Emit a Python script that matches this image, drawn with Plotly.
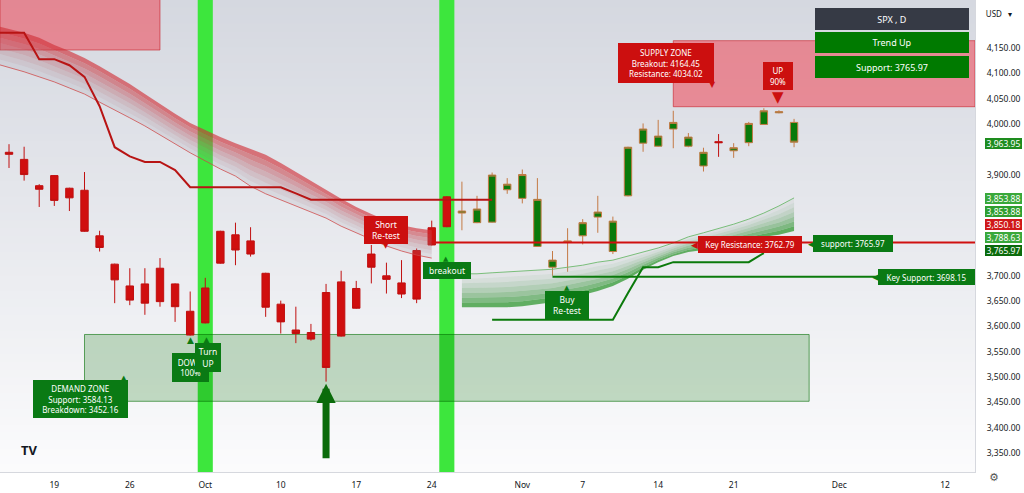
import plotly.graph_objects as go
import pandas as pd

# ---------------- DATA ----------------
dates = ["2022-09-14", "2022-09-15", "2022-09-16", "2022-09-19", "2022-09-20", "2022-09-21", "2022-09-22",
         "2022-09-23", "2022-09-26", "2022-09-27", "2022-09-28", "2022-09-29", "2022-09-30",
         "2022-10-03", "2022-10-04", "2022-10-05", "2022-10-06", "2022-10-07",
         "2022-10-10", "2022-10-11", "2022-10-12", "2022-10-13", "2022-10-14",
         "2022-10-17", "2022-10-18", "2022-10-19", "2022-10-20", "2022-10-21",
         "2022-10-24", "2022-10-25", "2022-10-26", "2022-10-27", "2022-10-28",
         "2022-10-31", "2022-11-01", "2022-11-02", "2022-11-03", "2022-11-04",
         "2022-11-07", "2022-11-08", "2022-11-09", "2022-11-10", "2022-11-11",
         "2022-11-14", "2022-11-15", "2022-11-16", "2022-11-17", "2022-11-18",
         "2022-11-21", "2022-11-22", "2022-11-23", "2022-11-25", "2022-11-28"]
opens = [3944, 3930, 3878, 3898, 3873, 3869, 3779, 3723, 3680, 3684, 3715, 3684, 3630,
         3676, 3788, 3781, 3769, 3705, 3644, 3593, 3588, 3667, 3688, 3675, 3743, 3700, 3686, 3750,
         3795, 3856, 3824, 3805, 3806, 3870, 3853, 3758, 3717, 3766, 3779, 3816, 3748, 3858, 3962,
         3956, 3990, 3956, 3917, 3965, 3947, 3963, 3999, 4022, 4003]
highs = [3960, 3955, 3881, 3899, 3874, 3905, 3789, 3724, 3715, 3715, 3735, 3685, 3669,
         3696, 3789, 3805, 3796, 3706, 3651, 3639, 3605, 3684, 3710, 3690, 3761, 3726, 3731, 3754,
         3809, 3857, 3886, 3858, 3904, 3893, 3910, 3893, 3749, 3794, 3812, 3858, 3817, 3955, 4001,
         4008, 4026, 3982, 3953, 3980, 3962, 4004, 4031, 4027, 4010]
lows = [3913, 3888, 3836, 3838, 3828, 3787, 3748, 3646, 3642, 3623, 3639, 3609, 3582,
        3606, 3724, 3721, 3738, 3619, 3586, 3567, 3572, 3491, 3580, 3635, 3685, 3665, 3656, 3646,
        3760, 3796, 3790, 3804, 3805, 3862, 3843, 3757, 3700, 3708, 3762, 3785, 3743, 3857, 3945,
        3955, 3952, 3954, 3906, 3935, 3933, 3956, 3998, 4021, 3954]
closes = [3940, 3900, 3871, 3849, 3854, 3788, 3756, 3692, 3652, 3646, 3649, 3639, 3583,
          3607, 3725, 3751, 3743, 3638, 3609, 3586, 3575, 3519, 3581, 3636, 3717, 3693, 3664, 3654,
          3761, 3797, 3828, 3832, 3899, 3881, 3900, 3851, 3731, 3769, 3805, 3826, 3808, 3954, 3990,
          3976, 4003, 3974, 3944, 3963, 3953, 4001, 4026, 4024, 3963.95]
trend = ["down"] * 30 + ["up"] * 17 + ["down"] + ["up"] * 5

# descending (bearish) cloud
bear_dates = ["2022-09-13"] + dates[:29]
bear_upper = [4195, 4188, 4180, 4170, 4156, 4144, 4130, 4114, 4097, 4079, 4059, 4039, 4020, 4002,
              3988, 3974, 3962, 3950, 3939, 3923, 3905, 3887, 3870, 3852, 3836, 3822, 3810, 3800, 3794, 3790]
bear_lower = [4120, 4112, 4103, 4093, 4083, 4071, 4059, 4043, 4028, 4012, 3996, 3978, 3960, 3943,
              3927, 3911, 3897, 3877, 3862, 3850, 3838, 3826, 3814, 3798, 3785, 3771, 3759, 3749, 3741, 3735]

# rising (bullish) cloud
bull_dates = dates[30:]
bull_upper = [3704, 3704, 3706, 3708, 3710, 3712, 3713, 3717, 3721, 3727, 3731, 3739, 3747, 3755,
              3765, 3777, 3785, 3793, 3802, 3812, 3824, 3838, 3853.88]
bull_lower = [3638, 3638, 3638, 3638, 3640, 3644, 3648, 3656, 3662, 3670, 3680, 3694, 3712, 3727,
              3739, 3747, 3751, 3757, 3765, 3771, 3777, 3781, 3788.63]

# trailing stop lines
bear_stop_dates = ["2022-09-13"] + dates[:33]
bear_stop = [4180, 4180, 4180, 4128, 4128, 4116, 4093, 4035, 3954, 3936, 3925, 3925, 3909, 3875,
             3875, 3875, 3875, 3875, 3875, 3875, 3863] + [3850.18] * 13
bull_stop_dates = dates[32:51]
bull_stop = [3613, 3613, 3613, 3613, 3613, 3613, 3613, 3613, 3613, 3666, 3717, 3717,
             3727, 3727, 3727, 3727, 3727, 3727, 3745]

support_level, support_start = 3765.97, "2022-10-24"
key_resistance = 3762.79
key_support, key_support_start = 3698.15, "2022-11-03"
supply_breakout, supply_resistance, supply_start = 4164.45, 4034.02, "2022-11-15"
old_supply_top, old_supply_bottom, old_supply_end = 4300, 4146, "2022-09-28"
demand_support, demand_breakdown = 3584.13, 3452.16
demand_start, demand_end = "2022-09-21", "2022-11-29"
signal_dates = ["2022-10-03", "2022-10-25"]
arrow_date, arrow_price = "2022-10-13", 3487

price_labels = [3963.95, 3853.88, 3853.88, 3850.18, 3788.63, 3765.97]
price_label_colors = ["#1e8c1e", "#3aa83a", "#2f9f2f", "#d01818", "#3aa83a", "#0b6b0b"]

x_tickvals = ["2022-09-19", "2022-09-26", "2022-10-03", "2022-10-10", "2022-10-17", "2022-10-24",
              "2022-11-01", "2022-11-07", "2022-11-14", "2022-11-21", "2022-12-01", "2022-12-12"]
x_ticktext = ["19", "26", "Oct", "10", "17", "24", "Nov", "7", "14", "21", "Dec", "12"]
# 3750-3950 ticks sit behind the price labels in the reference
y_tickvals = [3350, 3400, 3450, 3500, 3550, 3600, 3650, 3700, 3900, 4000, 4050, 4100, 4150]

x_start, x_end = "2022-09-13 09:40", "2022-12-13 23:40"
y_min, y_max = 3312.5, 4244.8

# ---------------- FIGURE ----------------
FONT = "Noto Sans"
W, H = 975, 472


def P(x, y):
    return x / W, 1 - y / H


fig = go.Figure()
shapes = []

# background gradient
top, bot = (213, 216, 224), (251, 251, 252)
n = 60
for i in range(n):
    t = i / (n - 1)
    c = tuple(round(top[j] + (bot[j] - top[j]) * t) for j in range(3))
    shapes.append(dict(type="rect", xref="paper", yref="paper", x0=0, x1=1,
                       y0=1 - (i + 1) / n - 0.002, y1=1 - i / n,
                       fillcolor="rgb(%d,%d,%d)" % c, line=dict(width=0), layer="below"))

# signal bands
for d in signal_dates:
    k = dates.index(d)
    x0 = pd.Timestamp(dates[k - 1]) + pd.Timedelta(hours=12)
    x1 = pd.Timestamp(d) + pd.Timedelta(hours=12)
    shapes.append(dict(type="rect", xref="x", yref="paper", x0=x0, x1=x1, y0=0, y1=1,
                       fillcolor="#3de63d", line=dict(width=0), layer="below"))

# zones
shapes.append(dict(type="rect", xref="x", yref="y", x0=x_start, x1=old_supply_end,
                   y0=old_supply_bottom, y1=old_supply_top,
                   fillcolor="rgba(242,54,69,0.5)", line=dict(color="rgba(200,30,40,0.6)", width=1), layer="below"))
shapes.append(dict(type="rect", xref="x", yref="y", x0=supply_start, x1=x_end,
                   y0=supply_resistance, y1=supply_breakout,
                   fillcolor="rgba(242,54,69,0.5)", line=dict(color="rgba(200,30,40,0.6)", width=1), layer="below"))
shapes.append(dict(type="rect", xref="x", yref="y", x0=demand_start, x1=demand_end,
                   y0=demand_breakdown, y1=demand_support,
                   fillcolor="rgba(0,110,0,0.22)", line=dict(color="rgba(0,110,0,0.6)", width=1), layer="below"))


def lerp_rgba(a, b, t):
    return "rgba(%d,%d,%d,%.3f)" % tuple([round(a[j] + (b[j] - a[j]) * t) for j in range(3)] +
                                         [a[3] + (b[3] - a[3]) * t])


def ribbon(xs, up, lo, ctop, cbot, nb=7):
    for k in range(nb + 1):
        yk = [u - (u - l) * k / nb for u, l in zip(up, lo)]
        kw = {}
        if k > 0:
            kw = dict(fill="tonexty", fillcolor=lerp_rgba(ctop, cbot, (k - 0.5) / nb))
        fig.add_trace(go.Scatter(x=xs, y=yk, mode="lines", line=dict(width=0),
                                 hoverinfo="skip", showlegend=False, **kw))


ribbon(bear_dates, bear_upper, bear_lower, (212, 40, 48, 0.68), (150, 150, 162, 0.12))
fig.add_trace(go.Scatter(x=bear_dates, y=bear_lower, mode="lines",
                         line=dict(color="rgba(205,70,70,0.75)", width=1), hoverinfo="skip", showlegend=False))
ribbon(bull_dates, bull_upper, bull_lower, (175, 185, 180, 0.10), (40, 150, 40, 0.80))
fig.add_trace(go.Scatter(x=bull_dates, y=bull_upper, mode="lines",
                         line=dict(color="rgba(110,185,110,0.9)", width=1), hoverinfo="skip", showlegend=False))

# stop lines
fig.add_trace(go.Scatter(x=bear_stop_dates, y=bear_stop, mode="lines",
                         line=dict(color="#b81414", width=2), hoverinfo="skip", showlegend=False))
fig.add_trace(go.Scatter(x=bull_stop_dates, y=bull_stop, mode="lines",
                         line=dict(color="#0b7a0b", width=2), hoverinfo="skip", showlegend=False))
fig.add_trace(go.Scatter(x=[support_start, x_end], y=[support_level, support_level], mode="lines",
                         line=dict(color="#d01010", width=2), hoverinfo="skip", showlegend=False))
fig.add_trace(go.Scatter(x=[key_support_start, x_end], y=[key_support, key_support], mode="lines",
                         line=dict(color="#0b7a0b", width=2), hoverinfo="skip", showlegend=False))

# candles
for tr, fill, line in [("down", "#d00f0f", "#c01010"), ("up", "#0a7a0a", "#c47a45")]:
    idx = [i for i, t in enumerate(trend) if t == tr]
    fig.add_trace(go.Candlestick(
        x=[dates[i] for i in idx], open=[opens[i] for i in idx], high=[highs[i] for i in idx],
        low=[lows[i] for i in idx], close=[closes[i] for i in idx],
        increasing=dict(fillcolor=fill, line=dict(color=line, width=1)),
        decreasing=dict(fillcolor=fill, line=dict(color=line, width=1)),
        whiskerwidth=0, showlegend=False, hoverinfo="skip"))

# ---------------- ANNOTATIONS ----------------
ann = []


def box(text, cx, cy, w, h, bg, size=8, color="white"):
    x, y = P(cx, cy)
    ann.append(dict(xref="paper", yref="paper", x=x, y=y, xanchor="center", yanchor="middle",
                    text=text, showarrow=False, font=dict(size=size, color=color, family=FONT),
                    bgcolor=bg, width=w, height=h, borderpad=0, borderwidth=0, align="center"))


def glyph(ch, cx, cy, color, size=9):
    x, y = P(cx, cy)
    ann.append(dict(xref="paper", yref="paper", x=x, y=y, xanchor="center", yanchor="middle",
                    text=ch, showarrow=False, font=dict(size=size, color=color, family="DejaVu Sans")))


RED, GREEN = "#cc0f0f", "#0a7a14"

glyph("▼", 712, 85, RED, 8)
box("SUPPLY ZONE<br>Breakout: %.2f<br>Resistance: %.2f" % (supply_breakout, supply_resistance),
    666, 63, 96, 40, RED, 8)
glyph("▼", 778, 97, RED, 15)
box("UP<br>90%", 778, 76, 30, 28, RED, 8)
glyph("▼", 386, 246, RED, 7)
box("Short<br>Re-test", 386, 230, 44, 28, RED, 8.5)
glyph("▲", 446, 259, GREEN, 7)
box("breakout", 447, 270, 48, 17, GREEN, 8.5)
glyph("▲", 567, 288, GREEN, 7)
box("Buy<br>Re-test", 567, 305, 44, 28, GREEN, 8.5)
glyph("▲", 190, 340, GREEN, 9)
box("DOWN<br>100%", 190, 367, 37, 29, GREEN, 8)
glyph("▲", 206, 340, GREEN, 9)
box("Turn<br>UP", 208, 357, 26, 29, GREEN, 8.5)
glyph("▲", 124, 378, GREEN, 7)
box("DEMAND ZONE<br>Support: %.2f<br>Breakdown: %.2f" % (demand_support, demand_breakdown),
    80, 399, 95, 38, GREEN, 8)
glyph("◀", 694, 245, RED, 9)
box("Key Resistance: %.2f" % key_resistance, 750, 245, 104, 17, RED, 8)
glyph("◀", 811, 244, GREEN, 9)
box("support: %.2f" % support_level, 853, 244, 80, 17, GREEN, 8)
glyph("◀", 875, 277, GREEN, 9)
box("Key Support: %.2f" % key_support, 926, 277, 97, 16, GREEN, 8)

# info table
box("SPX , D", 892, 19, 154, 22, "#363a45", 9)
box("Trend Up", 892, 43, 154, 21, "#007a00", 9)
box("Support: %.2f" % support_level, 892, 67, 154, 22, "#007a00", 9)

# axis price labels
label_y = [143.5, 198.5, 211.5, 224.5, 237, 250]
for v, c, py in zip(price_labels, price_label_colors, label_y):
    box("{:,.2f}".format(v), 1003, py, 37, 11, c, 8.5)

# currency dropdown
box("USD   ▾", 999, 13, 42, 18, "white", 8, "#131722")

# big up arrow
ann.append(dict(xref="x", yref="y", x=arrow_date, y=arrow_price, ax=0, ay=76, text="",
                showarrow=True, arrowhead=2, arrowsize=0.55, arrowwidth=7, arrowcolor="#0b6b0b"))

# logo and gear
x, y = P(19, 461)
ann.append(dict(xref="paper", yref="paper", x=x, y=y, text="<b>TV</b>", showarrow=False,
                font=dict(size=13, color="#131722", family=FONT)))
x, y = P(1001, 486)
ann.append(dict(xref="paper", yref="paper", x=x, y=y, text="⚙", showarrow=False,
                font=dict(size=11, color="#555", family="DejaVu Sans")))

fig.update_layout(
    width=1024, height=493,
    margin=dict(l=0, r=49, t=0, b=21),
    paper_bgcolor="white", plot_bgcolor="white",
    shapes=shapes, annotations=ann, showlegend=False,
    font=dict(family=FONT, size=9, color="#131722"),
    xaxis=dict(type="date", range=[x_start, x_end],
               rangebreaks=[dict(bounds=["sat", "mon"]), dict(values=["2022-11-24"])],
               tickvals=x_tickvals, ticktext=x_ticktext, tickfont=dict(size=8.5, color="#131722"),
               showgrid=False, zeroline=False, showline=True, linecolor="#d6d8de", linewidth=1,
               ticks="", ticklabelstandoff=5, rangeslider=dict(visible=False)),
    yaxis=dict(side="right", range=[y_min, y_max], tickvals=y_tickvals, tickformat=",.2f",
               tickfont=dict(size=8.5, color="#131722"), showgrid=False, zeroline=False,
               showline=True, linecolor="#d6d8de", linewidth=1, ticks="", ticklabelstandoff=9),
)

fig.write_html("out.html", config={"displayModeBar": False},
               post_script="document.body.style.margin='0';document.body.style.overflow='hidden';")
